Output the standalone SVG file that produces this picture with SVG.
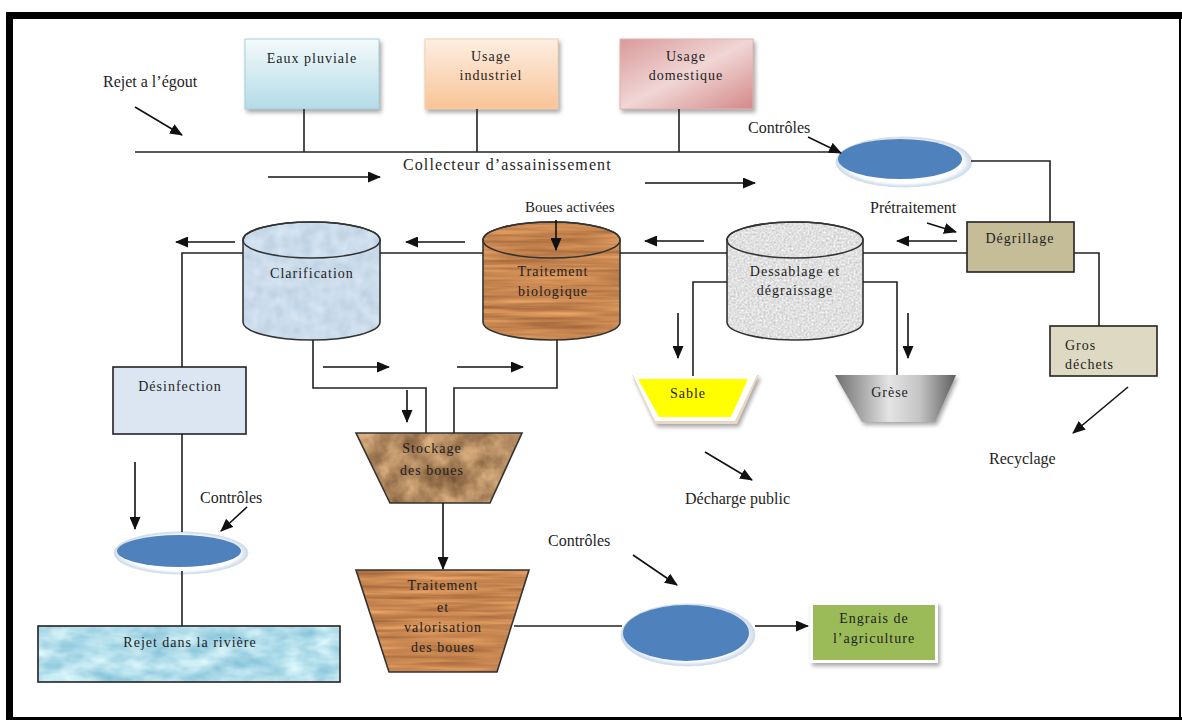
<svg xmlns="http://www.w3.org/2000/svg" width="1182" height="722" viewBox="0 0 1182 722">
  <style>
    text { font-family: "Liberation Serif", "DejaVu Serif", serif; fill: #1e1e1e; }
    .lbl { font-size: 16px; }
    .box { font-size: 14px; letter-spacing: 1px; text-anchor: middle; }
    .left { text-anchor: start; }
    .wire { fill: none; stroke: #222; stroke-width: 1.6; }
    .arr { fill: none; stroke: #111; stroke-width: 1.6; marker-end: url(#head); }
    .edge { fill: none; stroke: #333; stroke-width: 1.6; }
    filter { color-interpolation-filters: sRGB; }
  </style>
  <defs>
    <marker id="head" markerUnits="userSpaceOnUse" markerWidth="13" markerHeight="11" refX="12" refY="5.5" orient="auto">
      <path d="M0,0 L13,5.5 L0,11 z" fill="#111"/>
    </marker>
    <linearGradient id="gPluie" x1="0" y1="0" x2="0" y2="1">
      <stop offset="0" stop-color="#f4fafc"/>
      <stop offset="1" stop-color="#b3dbe6"/>
    </linearGradient>
    <linearGradient id="gIndus" x1="0" y1="0" x2="0" y2="1">
      <stop offset="0" stop-color="#fdeee2"/>
      <stop offset="1" stop-color="#f9c497"/>
    </linearGradient>
    <linearGradient id="gDom" x1="0" y1="0" x2="1" y2="1">
      <stop offset="0" stop-color="#d99a9a"/>
      <stop offset="0.5" stop-color="#f0d6d5"/>
      <stop offset="1" stop-color="#d38887"/>
    </linearGradient>
    <linearGradient id="gGrese" x1="0" y1="0" x2="1" y2="0">
      <stop offset="0" stop-color="#6e6e6e"/>
      <stop offset="0.45" stop-color="#e4e4e4"/>
      <stop offset="0.7" stop-color="#c4c4c4"/>
      <stop offset="1" stop-color="#5e5e5e"/>
    </linearGradient>
    <radialGradient id="gHalo" cx="0.5" cy="0.5" r="0.5">
      <stop offset="0.85" stop-color="#ffffff"/>
      <stop offset="1" stop-color="#c8d8ea"/>
    </radialGradient>
    <filter id="shadow" x="-10%" y="-10%" width="125%" height="130%">
      <feGaussianBlur in="SourceAlpha" stdDeviation="2"/>
      <feOffset dx="2" dy="3" result="b"/>
      <feComponentTransfer><feFuncA type="linear" slope="0.35"/></feComponentTransfer>
      <feMerge><feMergeNode/><feMergeNode in="SourceGraphic"/></feMerge>
    </filter>
    <!-- wood grain for the biological tank and sludge treatment -->
    <filter id="wood" x="0" y="0" width="1" height="1">
      <feTurbulence type="fractalNoise" baseFrequency="0.01 0.2" numOctaves="3" seed="4" result="n"/>
      <feColorMatrix in="n" type="matrix" values="0.4 0 0 0 0.58  0.35 0 0 0 0.35  0.25 0 0 0 0.19  0 0 0 0 1" result="c"/>
      <feComposite in="c" in2="SourceGraphic" operator="in"/>
    </filter>
    <!-- crumpled paper for sludge storage -->
    <filter id="paper" x="0" y="0" width="1" height="1">
      <feTurbulence type="fractalNoise" baseFrequency="0.045" numOctaves="4" seed="9" result="n"/>
      <feColorMatrix in="n" type="matrix" values="0.6 0 0 0 0.39  0.55 0 0 0 0.26  0.45 0 0 0 0.15  0 0 0 0 1" result="c"/>
      <feComposite in="c" in2="SourceGraphic" operator="in"/>
    </filter>
    <!-- fine speckle for the grit / grease tank -->
    <filter id="speckle" x="0" y="0" width="1" height="1">
      <feTurbulence type="fractalNoise" baseFrequency="0.5" numOctaves="2" seed="2" result="n"/>
      <feColorMatrix in="n" type="matrix" values="0.3 0 0 0 0.73  0.3 0 0 0 0.73  0.3 0 0 0 0.73  0 0 0 0 1" result="c"/>
      <feComposite in="c" in2="SourceGraphic" operator="in"/>
    </filter>
    <!-- soft mottling for clarifier -->
    <filter id="mottle" x="0" y="0" width="1" height="1">
      <feTurbulence type="fractalNoise" baseFrequency="0.08" numOctaves="2" seed="6" result="n"/>
      <feColorMatrix in="n" type="matrix" values="0.15 0 0 0 0.72  0.12 0 0 0 0.8  0.1 0 0 0 0.87  0 0 0 0 1" result="c"/>
      <feComposite in="c" in2="SourceGraphic" operator="in"/>
    </filter>
    <!-- water droplets for river -->
    <filter id="water" x="0" y="0" width="1" height="1">
      <feTurbulence type="fractalNoise" baseFrequency="0.035 0.07" numOctaves="3" seed="12" result="n"/>
      <feColorMatrix in="n" type="matrix" values="0.5 0 0 0 0.45  0.3 0 0 0 0.72  0.2 0 0 0 0.82  0 0 0 0 1" result="c"/>
      <feComposite in="c" in2="SourceGraphic" operator="in"/>
    </filter>
  </defs>

  <rect width="1182" height="722" fill="#ffffff"/>

  <!-- frame -->
  <g id="frame" fill="#000">
    <rect x="6" y="12" width="1176" height="7"/>
    <rect x="6" y="12" width="7" height="708"/>
    <rect x="6" y="717" width="1176" height="3"/>
    <rect x="1179" y="12" width="2" height="708"/>
  </g>

  <!-- free labels -->
  <g id="labels" class="lbl">
    <text x="103" y="87">Rejet a l’égout</text>
    <text x="403" y="170" letter-spacing="1.1">Collecteur  d’assainissement</text>
    <text x="748" y="133">Contrôles</text>
    <text x="870" y="213">Prétraitement</text>
    <text x="525" y="212" font-size="15">Boues activées</text>
    <text x="685" y="504">Décharge public</text>
    <text x="989" y="464">Recyclage</text>
    <text x="200" y="503">Contrôles</text>
    <text x="548" y="546">Contrôles</text>
  </g>

  <!-- sources -->
  <g id="eaux-pluviale">
    <rect x="245" y="39" width="134" height="70" fill="url(#gPluie)" stroke="#a9d0dc" stroke-width="1" filter="url(#shadow)"/>
    <text class="box" x="312" y="63">Eaux pluviale</text>
  </g>
  <g id="usage-industriel">
    <rect x="425" y="39" width="133" height="70" fill="url(#gIndus)" stroke="#f2cfae" stroke-width="1" filter="url(#shadow)"/>
    <text class="box" x="491" y="61">Usage</text>
    <text class="box" x="491" y="80">industriel</text>
  </g>
  <g id="usage-domestique">
    <rect x="620" y="39" width="133" height="70" fill="url(#gDom)" stroke="#e0b3b2" stroke-width="1" filter="url(#shadow)"/>
    <text class="box" x="686" y="61">Usage</text>
    <text class="box" x="686" y="80">domestique</text>
  </g>

  <!-- control point on the collector -->
  <g id="controle-collecteur">
    <ellipse cx="904" cy="162" rx="68" ry="25" fill="url(#gHalo)" stroke="#d6e0ea" stroke-width="1"/>
    <ellipse cx="900" cy="159" rx="62" ry="20" fill="#4f81bd"/>
  </g>

  <!-- pretreatment -->
  <g id="degrillage">
    <rect x="967" y="222" width="107" height="50" fill="#c4bd97" stroke="#222" stroke-width="1.6"/>
    <text class="box" x="1020" y="243" letter-spacing="0.5">Dégrillage</text>
  </g>
  <g id="gros-dechets">
    <rect x="1050" y="326" width="107" height="50" fill="#ddd9c3" stroke="#222" stroke-width="1.6"/>
    <text class="box left" x="1065" y="350">Gros</text>
    <text class="box left" x="1065" y="369">déchets</text>
  </g>

  <g id="dessablage">
    <path d="M727,240 A68,18 0 0 1 863,240 V322 A68,18 0 0 1 727,322 Z" fill="#ddd" filter="url(#speckle)"/>
    <path class="edge" d="M727,240 A68,18 0 0 1 863,240 V322 A68,18 0 0 1 727,322 Z"/>
    <ellipse class="edge" cx="795" cy="240" rx="68" ry="18"/>
    <text class="box" x="795" y="276" letter-spacing="1.2">Dessablage et</text>
    <text class="box" x="795" y="295" letter-spacing="1.2">dégraissage</text>
  </g>

  <g id="sable">
    <path d="M632,375 H759 L737,424 H655 Z" fill="#ead8c2" filter="url(#shadow)"/>
    <path d="M633,375 H757 L735,421 H655 Z" fill="#ffffff"/>
    <path d="M638,379 H748 L731,417 H659 Z" fill="#ffff00"/>
    <text class="box" x="688" y="398" letter-spacing="0.5">Sable</text>
  </g>

  <g id="grese">
    <path d="M835,375 H956 L935,422 H862 Z" fill="url(#gGrese)" filter="url(#shadow)"/>
    <text class="box" x="890" y="397" letter-spacing="0.5">Grèse</text>
  </g>

  <!-- biological stage -->
  <g id="traitement-biologique">
    <path d="M483,240 A68.5,18 0 0 1 620,240 V322 A68.5,18 0 0 1 483,322 Z" fill="#c98a55" filter="url(#wood)"/>
    <path class="edge" d="M483,240 A68.5,18 0 0 1 620,240 V322 A68.5,18 0 0 1 483,322 Z"/>
    <ellipse class="edge" cx="551.5" cy="240" rx="68.5" ry="18"/>
    <text class="box" x="553" y="276">Traitement</text>
    <text class="box" x="553" y="296">biologique</text>
  </g>

  <g id="clarification">
    <path d="M243,240 A68.5,18 0 0 1 380,240 V322 A68.5,18 0 0 1 243,322 Z" fill="#c9ddf0" filter="url(#mottle)"/>
    <path class="edge" d="M243,240 A68.5,18 0 0 1 380,240 V322 A68.5,18 0 0 1 243,322 Z"/>
    <ellipse class="edge" cx="311.5" cy="240" rx="68.5" ry="18"/>
    <text class="box" x="312" y="278" letter-spacing="0.6">Clarification</text>
  </g>

  <g id="desinfection">
    <rect x="113" y="367" width="133" height="67" fill="#dce6f2" stroke="#222" stroke-width="1.6"/>
    <text class="box" x="180" y="391" letter-spacing="0.6">Désinfection</text>
  </g>

  <g id="controle-riviere">
    <ellipse cx="181" cy="553" rx="67" ry="21" fill="url(#gHalo)" stroke="#d6e0ea" stroke-width="1"/>
    <ellipse cx="179" cy="551" rx="62" ry="16" fill="#4f81bd"/>
  </g>

  <g id="rejet-riviere">
    <rect x="38" y="626" width="302" height="56" fill="#bfe4ef" filter="url(#water)"/>
    <rect x="38" y="626" width="302" height="56" fill="none" stroke="#222" stroke-width="1.6"/>
    <text class="box" x="190" y="647" letter-spacing="0.3" font-size="15">Rejet dans la rivière</text>
  </g>

  <!-- sludge line -->
  <g id="stockage-boues">
    <path d="M356,433 H522 L490,503 H390 Z" fill="#a9825a" filter="url(#paper)"/>
    <path class="edge" d="M356,433 H522 L490,503 H390 Z"/>
    <text class="box" x="432" y="453" letter-spacing="0.5">Stockage</text>
    <text class="box" x="432" y="475" letter-spacing="0.5">des boues</text>
  </g>

  <g id="valorisation-boues">
    <path d="M356,570 H529 L497,672 H389 Z" fill="#c98a55" filter="url(#wood)"/>
    <path class="edge" d="M356,570 H529 L497,672 H389 Z"/>
    <text class="box" x="443" y="590">Traitement</text>
    <text class="box" x="443" y="612">et</text>
    <text class="box" x="443" y="632">valorisation</text>
    <text class="box" x="443" y="652">des boues</text>
  </g>

  <g id="controle-boues">
    <ellipse cx="688" cy="635" rx="67" ry="31" fill="url(#gHalo)" stroke="#d6e0ea" stroke-width="1"/>
    <ellipse cx="686" cy="633" rx="63" ry="28" fill="#4f81bd"/>
  </g>

  <g id="engrais">
    <rect x="810" y="602" width="128" height="61" fill="#ffffff" filter="url(#shadow)"/>
    <rect x="813" y="605" width="122" height="55" fill="#9bbb59"/>
    <text class="box" x="874" y="623" letter-spacing="0.5">Engrais de</text>
    <text class="box" x="874" y="643" letter-spacing="0.5">l’agriculture</text>
  </g>

  <!-- connectors, drawn last so they sit on top of the tanks -->
  <g id="connectors">
    <!-- sewer collector and inflows -->
    <path class="wire" d="M135,152 H840"/>
    <path class="wire" d="M304,109 V152 M477,109 V152 M679,109 V152"/>
    <path class="wire" d="M971,161 H1050 V222"/>
    <!-- main water line -->
    <path class="wire" d="M967,253 H863 M727,253 H620 M483,253 H380 M243,253 H182 V367"/>
    <path class="wire" d="M1074,253 H1099 V326"/>
    <!-- grit and grease outlets -->
    <path class="wire" d="M727,282 H693 V376 M863,282 H897 V375"/>
    <!-- sludge lines -->
    <path class="wire" d="M313,340 V388 H426 V433 M557,340 V388 H454 V433"/>
    <!-- disinfection to river -->
    <path class="wire" d="M182,434 V532 M182,571 V626"/>
    <path class="wire" d="M514,626 H622"/>

    <!-- flow arrows -->
    <path class="arr" d="M135,107 L182,135"/>
    <path class="arr" d="M268,177 H380"/>
    <path class="arr" d="M645,183 H755"/>
    <path class="arr" d="M808,137 L841,153"/>
    <path class="arr" d="M927,223 L956,232"/>
    <path class="arr" d="M957,241 H897"/>
    <path class="arr" d="M704,241 H645"/>
    <path class="arr" d="M465,242 H406"/>
    <path class="arr" d="M235,242 H176"/>
    <path class="arr" d="M556,220 V250"/>
    <path class="arr" d="M678,313 V358"/>
    <path class="arr" d="M908,313 V358"/>
    <path class="arr" d="M705,452 L752,480"/>
    <path class="arr" d="M1128,387 L1073,433"/>
    <path class="arr" d="M323,367 H389"/>
    <path class="arr" d="M457,367 H523"/>
    <path class="arr" d="M407,390 V422"/>
    <path class="arr" d="M443,503 V569"/>
    <path class="arr" d="M135,462 V529"/>
    <path class="arr" d="M247,507 L221,531"/>
    <path class="arr" d="M633,555 L677,585"/>
    <path class="arr" d="M755,626 H808"/>
  </g>
</svg>
